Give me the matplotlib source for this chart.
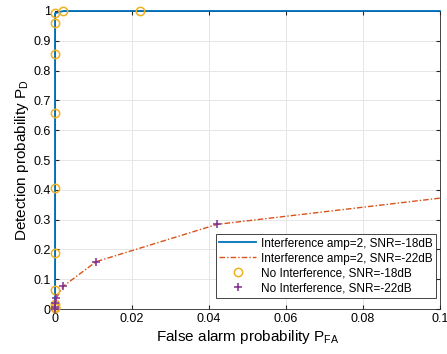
import numpy as np
import matplotlib
matplotlib.use('Agg')
import matplotlib.pyplot as plt

plt.rcParams['font.family'] = ['Liberation Sans', 'DejaVu Sans']
plt.rcParams['mathtext.fontset'] = 'custom'
plt.rcParams['mathtext.rm'] = 'Liberation Sans'

# Interference amp=2, SNR=-18dB
pfa_int18 = [0, 0, 0, 0, 0, 0, 0, 0, 0, 0, 0.0022, 0.0221, 0.1]
pd_int18 = [0, 0.005, 0.017, 0.064, 0.189, 0.405, 0.658, 0.856, 0.958, 0.992, 1.0, 1.0, 1.0]

# Interference amp=2, SNR=-22dB
pfa_int22 = [0, 0, 0, 0.0003, 0.0022, 0.0107, 0.0421, 0.1]
pd_int22 = [0, 0.008, 0.02, 0.036, 0.077, 0.159, 0.284, 0.372]

# No interference, SNR=-18dB
pfa_no18 = [0, 0, 0, 0, 0, 0, 0, 0, 0, 0, 0.0022, 0.0221]
pd_no18 = [0.003, 0.008, 0.017, 0.064, 0.189, 0.405, 0.658, 0.856, 0.958, 0.992, 1.0, 1.0]

# No interference, SNR=-22dB
pfa_no22 = [0, 0, 0, 0.0003, 0.0022, 0.0107, 0.0421]
pd_no22 = [0, 0.008, 0.02, 0.036, 0.077, 0.159, 0.284]

fig = plt.figure(figsize=(4.47, 3.54), dpi=100)
ax = fig.add_axes([0.123, 0.127, 0.861, 0.842])

ax.plot(pfa_int18, pd_int18, color='#0072BD', lw=1.3, clip_on=False, zorder=3,
        label='Interference amp=2, SNR=-18dB')
ax.plot(pfa_int22, pd_int22, color='#D95319', lw=1.0, ls=(0, (4, 1.5, 1, 1.5)),
        clip_on=False, zorder=3, label='Interference amp=2, SNR=-22dB')
ax.plot(pfa_no18, pd_no18, 'o', color='#EDB120', mfc='none', ms=6, mew=1.1,
        clip_on=False, zorder=4, label='No Interference, SNR=-18dB')
ax.plot(pfa_no22, pd_no22, '+', color='#7E2F8E', ms=6, mew=1.1,
        clip_on=False, zorder=4, label='No Interference, SNR=-22dB')

ax.set_xlim(0, 0.1)
ax.set_ylim(0, 1)
ax.set_xticks(np.arange(0, 0.101, 0.02))
ax.set_xticklabels(['0', '0.02', '0.04', '0.06', '0.08', '0.1'])
ax.set_yticks(np.arange(0, 1.01, 0.1))
ax.set_yticklabels(['0', '0.1', '0.2', '0.3', '0.4', '0.5', '0.6', '0.7', '0.8', '0.9', '1'])
ax.tick_params(direction='in', top=True, right=True, labelsize=9, length=3, color='#262626', pad=3)
ax.grid(color='#e6e6e6', lw=0.7)
ax.set_axisbelow(True)
for s in ax.spines.values():
    s.set_color('#262626')
    s.set_linewidth(0.6)

ax.set_xlabel('False alarm probability P$_{\\mathregular{FA}}$', fontsize=11, labelpad=2)
ax.set_ylabel('Detection probability P$_{\\mathregular{D}}$', fontsize=11, labelpad=2)

leg = ax.legend(loc='lower right', bbox_to_anchor=(0.99, 0.037), fontsize=8.5,
                frameon=True, fancybox=False, edgecolor='#262626', framealpha=1,
                handlelength=3.1, borderpad=0.3, labelspacing=0.25,
                handletextpad=0.4, borderaxespad=0)
leg.get_frame().set_linewidth(0.6)
leg.set_zorder(5)

fig.savefig('out.png', dpi=100)
